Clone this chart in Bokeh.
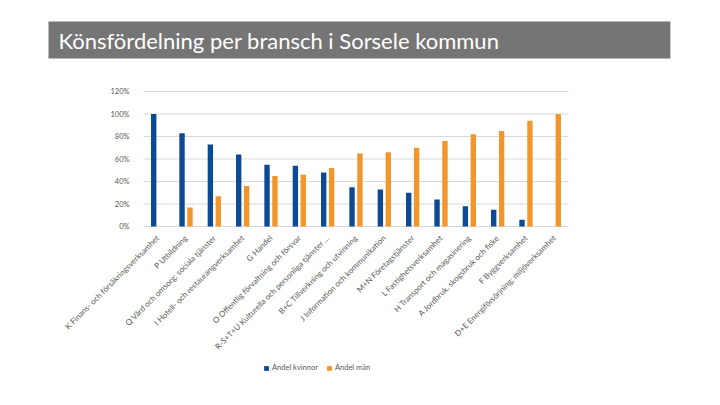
import math
from bokeh.plotting import figure
from bokeh.models import (ColumnDataSource, FixedTicker, PrintfTickFormatter,
                          Legend, LegendItem, Label, Range1d)
from bokeh.transform import dodge
from bokeh.embed import file_html
from bokeh.resources import INLINE

title_text = "Könsfördelning per bransch i Sorsele kommun"
categories = [
    "K Finans- och försäkringsverksamhet",
    "P Utbildning",
    "Q Vård och omsorg; sociala tjänster",
    "I Hotell- och restaurangverksamhet",
    "G Handel",
    "O Offentlig förvaltning och försvar",
    "R-S+T+U Kulturella och personliga tjänster …",
    "B+C Tillverkning och utvinning",
    "J Information och kommunikation",
    "M+N Företagstjänster",
    "L Fastighetsverksamhet",
    "H Transport och magasinering",
    "A Jordbruk, skogsbruk och fiske",
    "F Byggverksamhet",
    "D+E Energiförsörjning; miljöverksamhet",
]
andel_kvinnor = [100, 83, 73, 64, 55, 54, 48, 35, 33, 30, 24, 18, 15, 6, 0]
andel_man = [0, 17, 27, 36, 45, 46, 52, 65, 66, 70, 76, 82, 85, 94, 100]
y_ticks = [0, 20, 40, 60, 80, 100, 120]
series_names = ["Andel kvinnor", "Andel män"]

BLUE = "#0C4B93"
ORANGE = "#F0962A"
GRAY = "#595959"
GRID = "#D9D9D9"

n = len(categories)
idx = list(range(n))
src = ColumnDataSource(dict(i=idx, cat=categories, k=andel_kvinnor, m=andel_man))

# layout: the frame covers the whole canvas (so nothing gets clipped);
# 28.333 px per category, 1.125 px per percent, 0% line at page y = 226
W, H = 711, 405
PX_CAT = 425 / n
PX_PCT = 135 / 120
pad = 143 / PX_CAT
x_range = Range1d(-0.5 - pad, n - 0.5 + pad)
y_range = Range1d(-(H - 226) / PX_PCT, 226 / PX_PCT)

p = figure(x_range=x_range, y_range=y_range, frame_width=W, frame_height=H,
           output_backend="svg", toolbar_location=None, min_border=0)
p.outline_line_color = None
p.xgrid.grid_line_color = None
p.ygrid.grid_line_color = None

# horizontal gridlines spanning only the category area
gsrc = ColumnDataSource(dict(y=y_ticks, x0=[idx[0] - 0.5] * len(y_ticks),
                             x1=[idx[-1] + 0.5] * len(y_ticks)))
p.segment(x0="x0", x1="x1", y0="y", y1="y", source=gsrc,
          line_color=GRID, line_width=1)

rk = p.vbar(x=dodge("i", -0.14), top="k", width=0.19,
            source=src, color=BLUE, line_color=None)
rm = p.vbar(x=dodge("i", 0.14), top="m", width=0.19,
            source=src, color=ORANGE, line_color=None)

# y axis placed at the left edge of the category area
p.yaxis.fixed_location = idx[0] - 0.5
p.yaxis.ticker = FixedTicker(ticks=y_ticks)
p.yaxis.formatter = PrintfTickFormatter(format="%d%%")
p.yaxis.axis_line_color = None
p.yaxis.major_tick_line_color = None
p.yaxis.minor_tick_line_color = None
p.yaxis.major_label_standoff = 8
p.yaxis.major_label_text_font = "Lato"
p.yaxis.major_label_text_font_size = "7.5px"
p.yaxis.major_label_text_color = GRAY

# x axis placed at 0 %
p.xaxis.fixed_location = 0
p.xaxis.ticker = FixedTicker(ticks=idx)
p.xaxis.major_label_overrides = {i: c for i, c in zip(idx, categories)}
p.xaxis.axis_line_color = None
p.xaxis.major_tick_line_color = None
p.xaxis.minor_tick_line_color = None
p.xaxis.major_label_orientation = math.pi / 4
p.xaxis.major_label_standoff = 4
p.xaxis.major_label_text_font = "Lato"
p.xaxis.major_label_text_font_size = "8px"
p.xaxis.major_label_text_color = GRAY

title = Label(x=48, y=(226 - 21) / PX_PCT, x_units="screen", y_units="data",
              text=title_text, text_font="Lato", text_font_size="22px",
              text_color="white", text_align="left", text_baseline="top",
              background_fill_color="#757575",
              padding=dict(left=10, right=171, top=5, bottom=5))
p.add_layout(title)

legend = Legend(items=[LegendItem(label=series_names[0], renderers=[rk]),
                       LegendItem(label=series_names[1], renderers=[rm])],
                location=(263, 33), orientation="horizontal",
                glyph_width=6, glyph_height=6, label_text_font="Lato",
                label_text_font_size="7.5px", label_text_color=GRAY,
                label_height=8, label_width=8,
                padding=0, spacing=8, label_standoff=3, margin=0,
                border_line_color=None, background_fill_alpha=0)
p.add_layout(legend)

open("out.html", "w").write(file_html(p, INLINE))
